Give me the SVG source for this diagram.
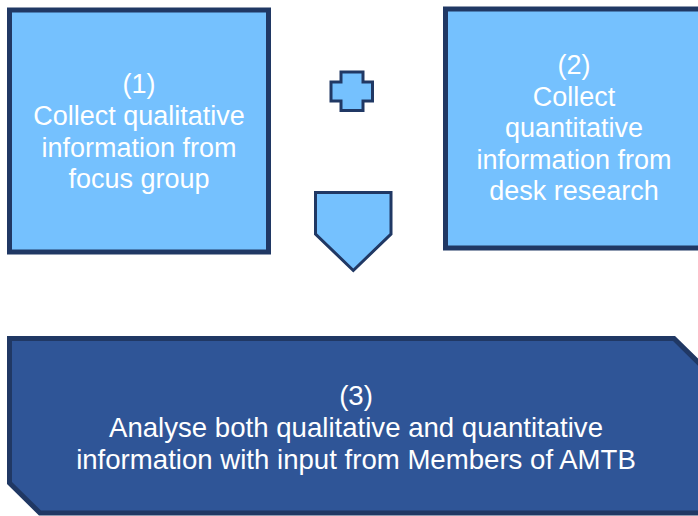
<svg xmlns="http://www.w3.org/2000/svg" width="698" height="516" viewBox="0 0 698 516">
<style>
.light{fill:#75c1fe;stroke:#203864;}
.dark{fill:#2f5597;stroke:#203864;stroke-width:5;}
.t{font-family:"Liberation Sans",Arial,sans-serif;fill:#ffffff;text-anchor:middle;font-size:27px;}
.t3{font-size:27.6px;}
</style>
<rect width="698" height="516" fill="#ffffff"/>
<g id="node1">
<rect class="light" x="9.5" y="10" width="259" height="242" stroke-width="5"/>
<text class="t" x="139" y="93">(1)</text>
<text class="t" x="139" y="125">Collect qualitative</text>
<text class="t" x="139" y="157">information from</text>
<text class="t" x="139" y="188">focus group</text>
</g>
<g id="node2">
<rect class="light" x="445.5" y="9" width="262" height="239" stroke-width="5"/>
<text class="t" x="574" y="74">(2)</text>
<text class="t" x="574" y="106">Collect</text>
<text class="t" x="574" y="137">quantitative</text>
<text class="t" x="574" y="169">information from</text>
<text class="t" x="574" y="200">desk research</text>
</g>
<g id="connectors">
<path id="plus" class="light" stroke-width="3" d="M341,72 H363 V82 H372.5 V101 H363 V110.5 H341 V101 H331 V82 H341 Z"/>
<path id="arrow" class="light" stroke-width="3" stroke-linejoin="miter" d="M315.5,192.5 H391 V234 L353.3,270.5 L315.5,234 Z"/>
</g>
<g id="node3">
<path class="dark" d="M9.5,338.5 H674 L706,370 V513 H40 L9.5,483 Z"/>
<text class="t t3" x="356" y="405">(3)</text>
<text class="t t3" x="356" y="437">Analyse both qualitative and quantitative</text>
<text class="t t3" x="356" y="469">information with input from Members of AMTB</text>
</g>
</svg>
